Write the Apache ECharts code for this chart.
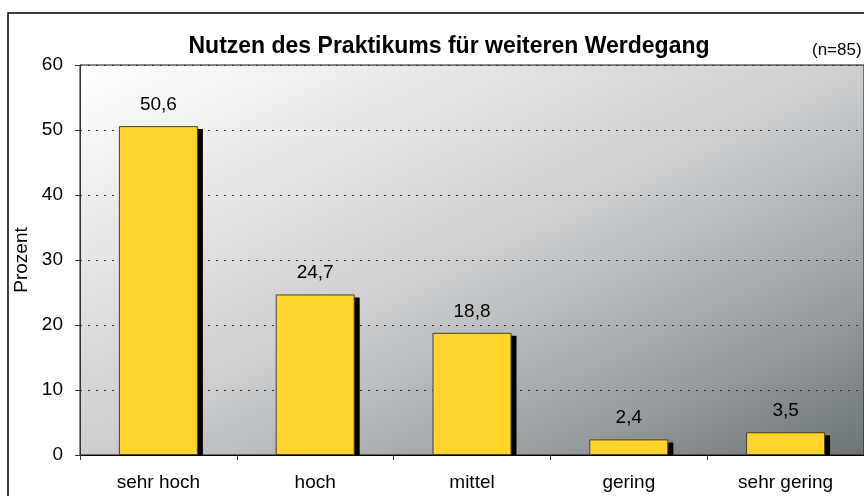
<!DOCTYPE html>
<html>
<head>
<meta charset="utf-8">
<script src="https://cdn.jsdelivr.net/npm/echarts@6/dist/echarts.min.js"></script>
<style>
  html, body { margin: 0; padding: 0; background: #fff; }
  #chart { width: 864px; height: 496px; }
</style>
</head>
<body>
<div id="chart"></div>
<script>
var categories = ['sehr hoch', 'hoch', 'mittel', 'gering', 'sehr gering'];
var values = [50.6, 24.7, 18.8, 2.4, 3.5];
var yTicks = [0, 10, 20, 30, 40, 50, 60];

var FONT = 'Liberation Sans, Arial, sans-serif';
var BAR_W = 79;
var PLOT_W = 790, PLOT_H = 390;
// corner gradient: equal shade along the anti-diagonal of the plot box
var gx = 2 * PLOT_H * PLOT_H / (PLOT_W * PLOT_W + PLOT_H * PLOT_H);
var gy = 2 * PLOT_W * PLOT_W / (PLOT_W * PLOT_W + PLOT_H * PLOT_H);

var mychart = echarts.init(document.getElementById('chart'));
var option = {
  animation: false,
  textStyle: { fontFamily: FONT },
  graphic: [
    {
      type: 'rect',
      shape: { x: 8, y: 13, width: 900, height: 520 },
      style: { fill: 'none', stroke: '#000', lineWidth: 1.5 },
      z: 100
    },
    {
      type: 'text',
      left: 812,
      top: 42,
      style: { text: '(n=85)', fontSize: 17, fill: '#000', fontFamily: FONT }
    }
  ],
  title: {
    text: 'Nutzen des Praktikums für weiteren Werdegang',
    left: 444,
    textAlign: 'center',
    top: 30,
    textStyle: { fontSize: 23, fontWeight: 'bold', color: '#000', fontFamily: FONT }
  },
  grid: {
    left: 80,
    top: 65,
    width: PLOT_W,
    height: PLOT_H,
    show: true,
    borderColor: '#111',
    borderWidth: 1,
    backgroundColor: new echarts.graphic.LinearGradient(0, 0, gx, gy, [
      { offset: 0, color: '#ffffff' },
      { offset: 0.5, color: '#cbcdcf' },
      { offset: 0.76, color: '#9ea2a4' },
      { offset: 1, color: '#6b7375' }
    ])
  },
  xAxis: {
    type: 'category',
    data: categories,
    axisLine: { lineStyle: { color: '#000', width: 1 } },
    axisTick: { show: true, length: 5, lineStyle: { color: '#333' } },
    axisLabel: { color: '#000', fontSize: 19, margin: 18 }
  },
  yAxis: {
    type: 'value',
    min: yTicks[0],
    max: yTicks[yTicks.length - 1],
    interval: 10,
    name: 'Prozent',
    nameLocation: 'middle',
    nameGap: 47,
    nameTextStyle: { color: '#000', fontSize: 19 },
    axisLine: { show: true, lineStyle: { color: '#333', width: 1 } },
    axisTick: { show: true, length: 5, lineStyle: { color: '#333' } },
    axisLabel: { color: '#000', fontSize: 19, margin: 17 },
    splitLine: { show: true, lineStyle: { color: '#333', type: [2, 6], width: 1 } }
  },
  series: [
    {
      // black drop shadow behind each bar
      type: 'custom',
      z: 1,
      silent: true,
      data: values.map(function (v, i) { return [i, v]; }),
      renderItem: function (params, api) {
        var top = api.coord([api.value(0), api.value(1)]);
        var base = api.coord([api.value(0), 0]);
        return {
          type: 'rect',
          shape: {
            x: top[0] - BAR_W / 2 + 5,
            y: top[1] + 3,
            width: BAR_W,
            height: base[1] - top[1] - 3
          },
          style: { fill: '#000' }
        };
      }
    },
    {
      type: 'bar',
      z: 2,
      data: values,
      barWidth: BAR_W,
      itemStyle: {
        color: '#ffd42c',
        borderColor: '#4a4020',
        borderWidth: 1
      },
      label: {
        show: true,
        position: 'top',
        distance: 12,
        color: '#000',
        fontSize: 19,
        formatter: function (p) {
          return p.value.toFixed(1).replace('.', ',');
        }
      }
    }
  ]
};
mychart.setOption(option);
</script>
</body>
</html>
